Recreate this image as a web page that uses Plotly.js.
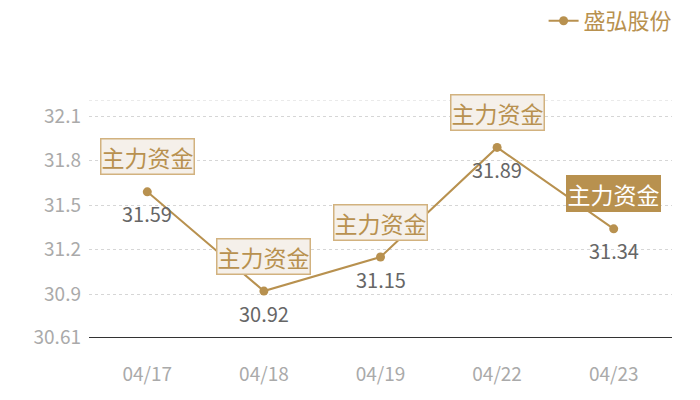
<!DOCTYPE html>
<html>
<head>
<meta charset="utf-8">
<script src="https://cdn.plot.ly/plotly-3.0.1.min.js"></script>
<style>
  body { margin: 0; }
  #myDiv { width: 700px; height: 400px; }
</style>
</head>
<body>
<div id="myDiv"></div>
<script>
var fechas = ['04/17', '04/18', '04/19', '04/22', '04/23'];
var precios = [31.59, 30.92, 31.15, 31.89, 31.34];
var etiqueta = '主力资金';
var serie = '盛弘股份';
var ticksY = [30.61, 30.9, 31.2, 31.5, 31.8, 32.1];
var textoY = ['30.61', '30.9', '31.2', '31.5', '31.8', '32.1'];
var topeY = 32.21;

var oro = '#b8914f';
var fuente = '"Noto Sans CJK SC", "Noto Sans", sans-serif';

var trace1 = {
  x: fechas,
  y: precios,
  name: serie,
  type: 'scatter',
  mode: 'lines+markers',
  line: { color: oro, width: 2 },
  marker: { color: oro, size: 9 },
  cliponaxis: false
};

var notas = [];
for (var i = 0; i < fechas.length; i++) {
  var ultima = (i == fechas.length - 1);
  // caja "主力资金" encima del punto, la ultima resaltada
  notas.push({
    x: fechas[i],
    y: precios[i],
    text: etiqueta,
    showarrow: false,
    yshift: 35,
    font: { family: fuente, size: 23, color: ultima ? '#ffffff' : oro },
    bgcolor: ultima ? oro : '#f5f0ea',
    bordercolor: ultima ? oro : '#d2b27f',
    borderwidth: 1.5,
    borderpad: 0
  });
  // valor debajo del punto
  notas.push({
    x: fechas[i],
    y: precios[i],
    text: precios[i].toFixed(2),
    showarrow: false,
    yshift: -22,
    font: { family: fuente, size: 20, color: '#666666' }
  });
}

var layout = {
  width: 700,
  height: 400,
  margin: { l: 89, r: 28, t: 100, b: 63, autoexpand: false },
  paper_bgcolor: '#ffffff',
  plot_bgcolor: '#ffffff',
  font: { family: fuente },
  showlegend: true,
  legend: {
    xref: 'container', yref: 'container',
    x: 0.968, xanchor: 'right',
    y: 1.008, yanchor: 'top',
    font: { family: fuente, size: 22, color: oro },
    bgcolor: 'rgba(0,0,0,0)'
  },
  xaxis: {
    type: 'category',
    range: [-0.5, 4.5],
    showgrid: false,
    showline: true,
    linecolor: '#333333',
    linewidth: 1,
    ticks: '',
    ticklabelstandoff: 20,
    tickfont: { family: fuente, size: 19, color: '#aaaaaa' }
  },
  yaxis: {
    range: [30.61, topeY],
    tickmode: 'array',
    tickvals: ticksY,
    ticktext: textoY,
    showgrid: true,
    gridcolor: '#d6d6d6',
    griddash: 'dot',
    gridwidth: 1,
    zeroline: false,
    showline: false,
    ticks: '',
    ticklabelstandoff: 7,
    tickfont: { family: fuente, size: 19, color: '#aaaaaa' }
  },
  shapes: [{
    type: 'line', xref: 'paper', x0: 0, x1: 1,
    yref: 'y', y0: topeY, y1: topeY,
    line: { color: '#d6d6d6', width: 1, dash: 'dot' },
    layer: 'below'
  }],
  annotations: notas
};

Plotly.newPlot('myDiv', [trace1], layout, { displayModeBar: false });
</script>
</body>
</html>
